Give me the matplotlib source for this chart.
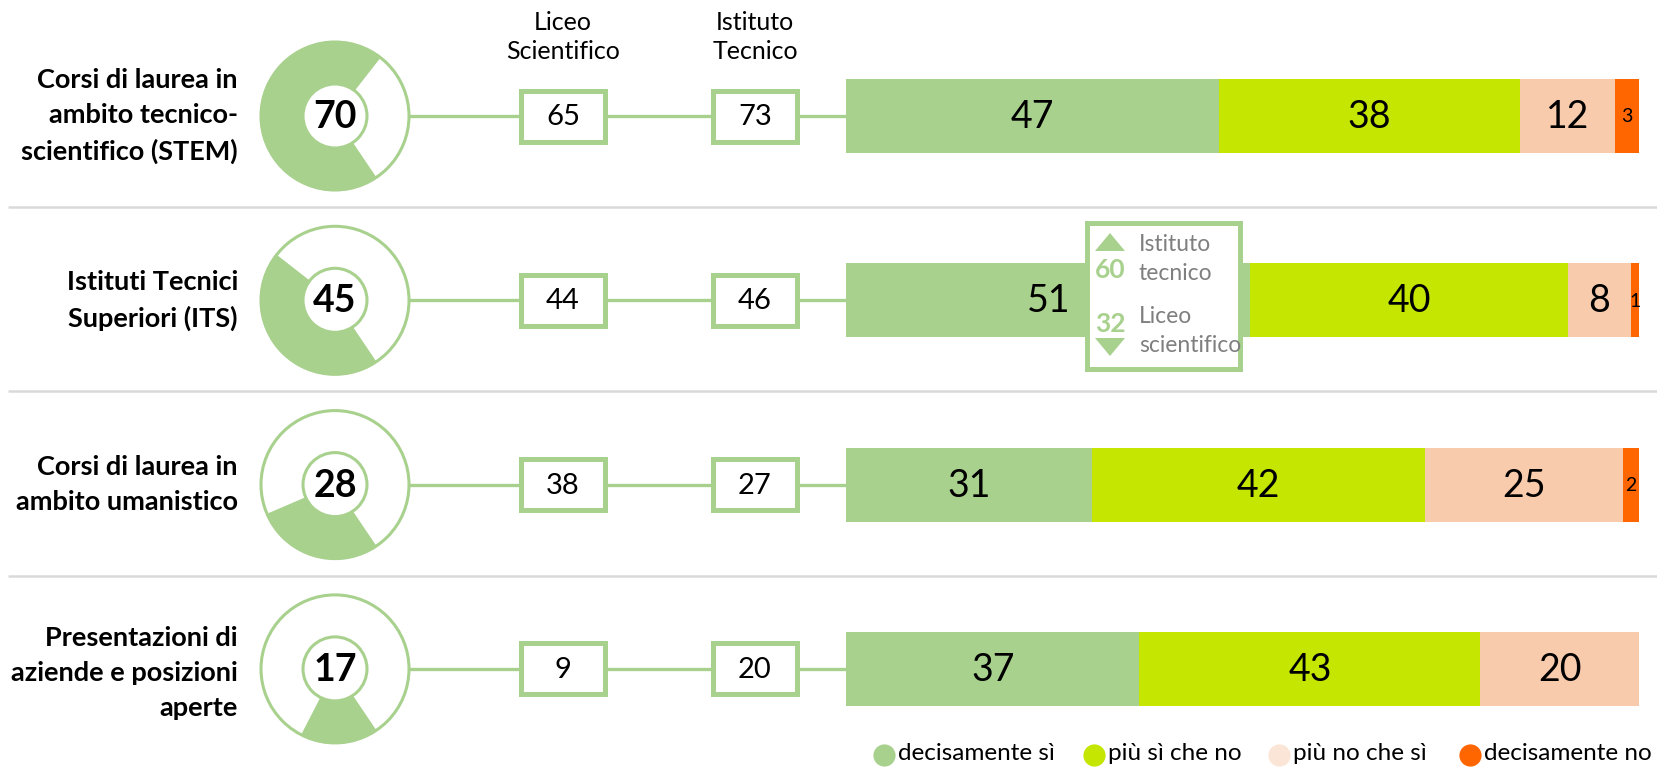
import matplotlib
matplotlib.use("Agg")
import matplotlib.pyplot as plt
from matplotlib.patches import Circle, Wedge, Rectangle, Polygon
import numpy as np

plt.rcParams['font.family'] = ['Lato', 'DejaVu Sans']

# ---------------- data ----------------
categories = ["Corsi di laurea in\nambito tecnico-\nscientifico (STEM)",
              "Istituti Tecnici\nSuperiori (ITS)",
              "Corsi di laurea in\nambito umanistico",
              "Presentazioni di\naziende e posizioni\naperte"]
totale = [70, 45, 28, 17]
liceo_scientifico = [65, 44, 38, 9]
istituto_tecnico = [73, 46, 27, 20]
decisamente_si = [47, 51, 31, 37]
piu_si_che_no = [38, 40, 42, 43]
piu_no_che_si = [12, 8, 25, 20]
decisamente_no = [3, 1, 2, 0]
column_headers = ["Liceo\nScientifico", "Istituto\nTecnico"]
legend_labels = ["decisamente sì", "più sì che no", "più no che sì", "decisamente no"]
callout_values = [60, 32]
callout_labels = ["Istituto\ntecnico", "Liceo\nscientifico"]

# ---------------- style ----------------
GREEN = "#A9D18E"
LIME = "#C4E600"
PEACH = "#F8CBAD"
ORANGE = "#FF6600"
LEGEND_COLORS = [GREEN, LIME, "#FBE5D6", ORANGE]
BAR_COLORS = [GREEN, LIME, PEACH, ORANGE]
GRAY_TXT = "#7F7F7F"
SEP = "#D9D9D9"

W, H = 1658, 769
fig = plt.figure(figsize=(W / 100, H / 100), dpi=100)
ax = fig.add_axes([0, 0, 1, 1])
ax.set_xlim(0, W)
ax.set_ylim(H, 0)
ax.axis('off')

row_y0, row_step = 116, 184.3
rows_y = [row_y0 + i * row_step for i in range(len(categories))]
donut_cx, R_out, R_in = 335, 74, 32
col_x = [563, 755]
bar_x0, bar_w = 846, 793
label_x = 238

# separators
for i in range(len(categories) - 1):
    ys = (rows_y[i] + rows_y[i + 1]) / 2 - 1
    ax.plot([8, W], [ys, ys], color=SEP, lw=1.8, zorder=0, solid_capstyle='butt')

# column headers
for x, t in zip(col_x, column_headers):
    ax.text(x, 37, t, ha='center', va='center', fontsize=18, linespacing=1.3)

for i, y in enumerate(rows_y):
    # label
    ax.text(label_x, y + (0 if i < 3 else 4), categories[i], ha='right', va='center',
            fontsize=19.5, fontweight='bold', linespacing=1.55)
    # connector
    ax.plot([donut_cx + R_out, bar_x0], [y, y], color=GREEN, lw=2.4, zorder=1)
    # donut
    ax.add_patch(Circle((donut_cx, y), R_out, fc='white', ec=GREEN, lw=2.2, zorder=2))
    start = 56  # data angle (y axis inverted)
    ax.add_patch(Wedge((donut_cx, y), R_out + 1, start, start + 3.6 * totale[i],
                       width=R_out + 1 - R_in, fc=GREEN, ec='none', zorder=3))
    ax.add_patch(Circle((donut_cx, y), R_in, fc='white', ec=GREEN, lw=2.2, zorder=4))
    ax.text(donut_cx, y + 1, str(totale[i]), ha='center', va='center', fontsize=27,
            fontweight='bold', zorder=5)
    # boxes
    for x, v in zip(col_x, [liceo_scientifico[i], istituto_tecnico[i]]):
        ax.add_patch(Rectangle((x - 42, y - 25.5), 84, 51, fc='white', ec=GREEN,
                               lw=3.6, zorder=3))
        ax.text(x, y + 1, str(v), ha='center', va='center', fontsize=21, zorder=4)

# bars
axb = fig.add_axes([bar_x0 / W, 0, bar_w / W, 1])
axb.set_xlim(0, 100)
axb.set_ylim(H, 0)
axb.axis('off')
series = [decisamente_si, piu_si_che_no, piu_no_che_si, decisamente_no]
left = np.zeros(len(categories))
for s, col in zip(series, BAR_COLORS):
    vals = np.array(s, dtype=float)
    axb.barh(rows_y, vals, left=left, height=74, color=col, edgecolor='none')
    for y, l, v in zip(rows_y, left, vals):
        if v <= 0:
            continue
        fs = 27 if v >= 5 else 14
        axb.text(l + v / 2, y + 1, f"{int(v)}", ha='center', va='center', fontsize=fs)
    left += vals

# callout overlay
axc = fig.add_axes([0, 0, 1, 1])
axc.set_xlim(0, W)
axc.set_ylim(H, 0)
axc.axis('off')
axc.patch.set_alpha(0)
axc.add_patch(Rectangle((1087, 223), 153, 146, fc='white', ec=GREEN, lw=3.6))
tx, tw, th = 1110, 15, 18
axc.add_patch(Polygon([(tx - tw, 251), (tx + tw, 251), (tx, 251 - th)], closed=True,
                      fc=GREEN, ec='none'))
axc.add_patch(Polygon([(tx - tw, 338), (tx + tw, 338), (tx, 338 + th)], closed=True,
                      fc=GREEN, ec='none'))
axc.text(tx, 270, str(callout_values[0]), ha='center', va='center', fontsize=19,
         fontweight='bold', color=GREEN)
axc.text(tx, 324, str(callout_values[1]), ha='center', va='center', fontsize=19,
         fontweight='bold', color=GREEN)
axc.text(1139, 259, callout_labels[0], ha='left', va='center', fontsize=16.5,
         color=GRAY_TXT, linespacing=1.45)
axc.text(1139, 331, callout_labels[1], ha='left', va='center', fontsize=16.5,
         color=GRAY_TXT, linespacing=1.45)

# legend (manual)
legend_x = [884, 1094, 1279, 1470]
for x, c, t in zip(legend_x, LEGEND_COLORS, legend_labels):
    axc.plot([x], [755], ls='none', marker='o', ms=16, color=c, mec='none')
    axc.text(x + 14, 754, t, ha='left', va='center', fontsize=17.5)

fig.savefig("out.png", dpi=100)
